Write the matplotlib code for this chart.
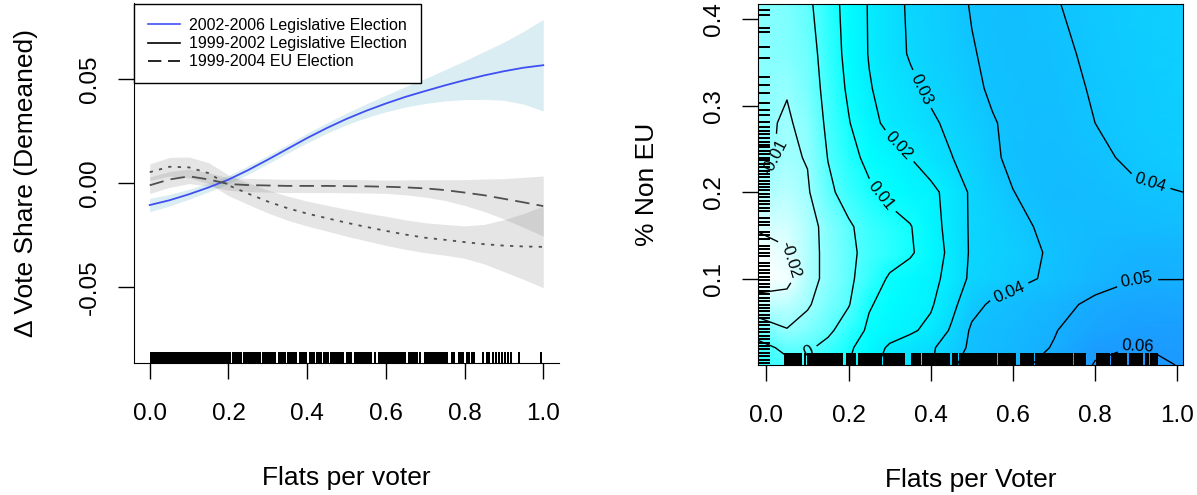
import numpy as np
import matplotlib.pyplot as plt
from matplotlib.colors import LinearSegmentedColormap
from matplotlib.lines import Line2D

plt.rcParams['font.family'] = 'Liberation Sans'
plt.rcParams['axes.unicode_minus'] = False

# ---------------- left panel: smooth effects ----------------
flats = [0.0, 0.05, 0.1, 0.15, 0.2, 0.25, 0.3, 0.35, 0.4, 0.45, 0.5,
         0.55, 0.6, 0.65, 0.7, 0.75, 0.8, 0.85, 0.9, 0.95, 1.0]

# 2002-2006 legislative election (blue)
leg02_fit = [-0.0105, -0.0082, -0.0053, -0.0020, 0.0017, 0.0063, 0.0113, 0.0165, 0.0217, 0.0265, 0.0309,
             0.0348, 0.0383, 0.0415, 0.0443, 0.0470, 0.0495, 0.0518, 0.0538, 0.0555, 0.0567]
leg02_lo = [-0.0137, -0.0110, -0.0077, -0.0041, -0.0003, 0.0043, 0.0093, 0.0144, 0.0194, 0.0240, 0.0281,
            0.0315, 0.0343, 0.0366, 0.0383, 0.0395, 0.0402, 0.0403, 0.0398, 0.0380, 0.0347]
leg02_hi = [-0.0073, -0.0054, -0.0029, 0.0001, 0.0037, 0.0083, 0.0133, 0.0186, 0.0240, 0.0290, 0.0337,
            0.0381, 0.0423, 0.0464, 0.0503, 0.0545, 0.0588, 0.0633, 0.0678, 0.0730, 0.0787]

# 1999-2004 EU election (long dashes)
eu_fit = [-0.0010, 0.0018, 0.0033, 0.0018, -0.0004, -0.0009, -0.0011, -0.0013, -0.0013, -0.0013, -0.0014,
          -0.0015, -0.0017, -0.0020, -0.0025, -0.0033, -0.0045, -0.0058, -0.0075, -0.0092, -0.0110]
eu_lo = [-0.0050, -0.0020, -0.0002, -0.0014, -0.0034, -0.0041, -0.0043, -0.0045, -0.0045, -0.0045, -0.0046,
         -0.0047, -0.0049, -0.0056, -0.0067, -0.0083, -0.0107, -0.0136, -0.0172, -0.0212, -0.0255]
eu_hi = [0.0030, 0.0056, 0.0068, 0.0050, 0.0026, 0.0023, 0.0021, 0.0019, 0.0019, 0.0019, 0.0018,
         0.0017, 0.0015, 0.0016, 0.0017, 0.0017, 0.0017, 0.0020, 0.0022, 0.0028, 0.0035]

# 1999-2002 legislative election (dotted)
leg99_fit = [0.0053, 0.0079, 0.0076, 0.0048, -0.0010, -0.0050, -0.0088, -0.0120, -0.0146, -0.0168, -0.0190,
             -0.0210, -0.0229, -0.0247, -0.0262, -0.0272, -0.0283, -0.0293, -0.0300, -0.0304, -0.0306]
leg99_lo = [0.0013, 0.0034, 0.0026, -0.0002, -0.0060, -0.0102, -0.0143, -0.0178, -0.0206, -0.0230, -0.0255,
            -0.0277, -0.0299, -0.0318, -0.0334, -0.0346, -0.0361, -0.0388, -0.0425, -0.0462, -0.0502]
leg99_hi = [0.0093, 0.0124, 0.0126, 0.0098, 0.0040, 0.0002, -0.0033, -0.0062, -0.0086, -0.0106, -0.0125,
            -0.0143, -0.0159, -0.0176, -0.0190, -0.0198, -0.0205, -0.0198, -0.0175, -0.0146, -0.0110]

# rug of observed flats per voter (in thousandths)
rug_left = [2, 6, 10, 14, 18, 22, 26, 30, 34, 38, 42, 46, 50, 54, 58, 62, 66, 70, 74, 78, 82, 86, 90,
            94, 98, 102, 106, 110, 114, 118, 122, 126, 130, 134, 138, 142, 146, 150, 154, 158, 162,
            166, 170, 174, 178, 182, 186, 190, 194, 198, 202, 205, 212, 216, 221, 226, 231, 239, 244,
            249, 254, 259, 264, 269, 274, 279, 289, 294, 299, 304, 309, 314, 319, 329, 334, 339, 344,
            352, 357, 362, 367, 372, 382, 387, 392, 397, 408, 413, 417, 424, 429, 434, 444, 449, 452,
            461, 466, 471, 476, 481, 486, 491, 501, 506, 511, 522, 527, 532, 537, 542, 547, 552, 557,
            562, 573, 583, 588, 593, 598, 603, 608, 613, 618, 623, 628, 633, 638, 643, 648, 658, 663,
            668, 673, 678, 688, 700, 705, 710, 715, 720, 725, 730, 735, 740, 745, 750, 755, 768, 773,
            785, 790, 795, 806, 812, 818, 825, 848, 856, 862, 872, 880, 888, 895, 902, 910, 918, 939, 995]

x_ticks = [0.0, 0.2, 0.4, 0.6, 0.8, 1.0]
x_labels = ['0.0', '0.2', '0.4', '0.6', '0.8', '1.0']
y_ticks_left = [-0.05, 0.0, 0.05]
y_labels_left = ['-0.05', '0.00', '0.05']

# ---------------- right panel: joint surface ----------------
grid_x = [-0.0205, 0.05, 0.1, 0.15, 0.2, 0.25, 0.3, 0.35, 0.4, 0.45, 0.5, 0.55, 0.6, 0.7, 0.8, 0.9, 1.014]
grid_y = [0.0, 0.02, 0.04, 0.07, 0.10, 0.13, 0.16, 0.20, 0.24, 0.28, 0.32, 0.36, 0.4177]
surface = [
    [0.005, 0.002, 0.004, 0.0065, 0.010, 0.018, 0.0225, 0.026, 0.029, 0.039, 0.0425, 0.045, 0.0475, 0.053, 0.0605, 0.0625, 0.0595],
    [0.003, -0.002, -0.0015, 0.003, 0.0085, 0.0145, 0.0215, 0.025, 0.0285, 0.035, 0.042, 0.0445, 0.046, 0.0505, 0.0585, 0.0603, 0.0588],
    [-0.004, -0.0095, -0.0065, -0.002, 0.005, 0.0115, 0.0155, 0.0185, 0.0225, 0.0312, 0.0415, 0.0438, 0.0455, 0.0495, 0.055, 0.0575, 0.058],
    [-0.016, -0.0155, -0.011, -0.0055, -0.0006, 0.0093, 0.0128, 0.0155, 0.0188, 0.027, 0.037, 0.0415, 0.0435, 0.047, 0.052, 0.0545, 0.055],
    [-0.025, -0.023, -0.0135, -0.0075, -0.0018, 0.0045, 0.0112, 0.0145, 0.0178, 0.0225, 0.0325, 0.0348, 0.037, 0.042, 0.0465, 0.0498, 0.0498],
    [-0.024, -0.0205, -0.0135, -0.0075, -0.0018, 0.0025, 0.0058, 0.0088, 0.0148, 0.0225, 0.0315, 0.034, 0.036, 0.0415, 0.0455, 0.0475, 0.0475],
    [-0.019, -0.0185, -0.0135, -0.007, -0.0012, 0.0035, 0.0067, 0.0095, 0.0158, 0.0235, 0.0315, 0.0345, 0.0375, 0.0425, 0.0445, 0.0445, 0.043],
    [-0.013, -0.0145, -0.011, -0.002, 0.0037, 0.0083, 0.0122, 0.0152, 0.0175, 0.0235, 0.0317, 0.0358, 0.0398, 0.0445, 0.0435, 0.041, 0.040],
    [-0.008, -0.0115, -0.0095, 0.0003, 0.0067, 0.0125, 0.016, 0.020, 0.025, 0.0297, 0.0335, 0.0385, 0.042, 0.0435, 0.0415, 0.0385, 0.0365],
    [-0.008, -0.011, -0.0075, 0.002, 0.0094, 0.017, 0.0225, 0.0255, 0.0285, 0.032, 0.0355, 0.0395, 0.0415, 0.043, 0.040, 0.0375, 0.0355],
    [-0.008, -0.0095, -0.005, 0.003, 0.0115, 0.0193, 0.0238, 0.028, 0.0318, 0.0347, 0.0385, 0.041, 0.042, 0.0425, 0.0393, 0.037, 0.035],
    [-0.008, -0.007, -0.004, 0.0042, 0.0129, 0.0205, 0.0262, 0.0308, 0.0338, 0.0366, 0.0395, 0.0415, 0.0425, 0.0418, 0.0385, 0.0365, 0.035],
    [-0.008, -0.006, -0.002, 0.0058, 0.0133, 0.0207, 0.0266, 0.0313, 0.0344, 0.0375, 0.0405, 0.042, 0.0425, 0.0404, 0.038, 0.036, 0.035],
]
contour_levels = [-0.02, -0.01, 0.0, 0.01, 0.02, 0.03, 0.04, 0.05, 0.06]

# rugs of the right panel (in thousandths)
rug_right_x = [45, 50, 55, 60, 65, 70, 75, 80, 85, 95, 100, 105, 110, 115, 120, 125, 130, 135, 140, 145,
               150, 155, 160, 165, 170, 175, 180, 185, 195, 200, 205, 210, 215, 225, 230, 235, 240, 245,
               250, 255, 260, 265, 270, 275, 280, 285, 290, 295, 300, 305, 310, 315, 320, 325, 330, 335,
               355, 360, 365, 370, 375, 380, 385, 390, 395, 400, 405, 410, 415, 420, 425, 430, 435, 440,
               445, 455, 460, 465, 470, 475, 480, 485, 490, 495, 500, 505, 510, 515, 520, 525, 530, 535,
               540, 545, 550, 555, 560, 565, 570, 575, 580, 585, 590, 595, 600, 605, 620, 625, 630, 635,
               640, 645, 650, 655, 660, 665, 670, 675, 680, 685, 690, 695, 700, 705, 710, 715, 720, 725,
               730, 735, 740, 745, 750, 755, 760, 765, 770, 775, 805, 810, 815, 820, 825, 830, 835, 840,
               845, 850, 855, 860, 865, 870, 875, 885, 890, 895, 900, 905, 910, 915, 925, 930, 935, 940,
               945, 950]
rug_right_y = [411, 405, 390, 385, 368, 355, 333, 324, 315, 303, 295, 289, 281, 275, 271, 267, 263, 258,
               255, 252, 248, 244, 240, 237, 233, 229, 225, 221, 217, 213, 210, 206, 202, 198, 194, 190,
               186, 182, 178, 170, 166, 162, 154, 150, 146, 138, 134, 130, 126, 118, 114, 110, 106, 102,
               98, 94, 90, 86, 82, 78, 74, 70, 66, 62, 58, 54, 50, 46, 42, 38, 34, 30, 26, 22, 18, 14,
               10, 6, 2]

y_ticks_right = [0.1, 0.2, 0.3, 0.4]
y_labels_right = ['0.1', '0.2', '0.3', '0.4']

# ---------------- drawing ----------------
fig = plt.figure(figsize=(11.97, 4.95), dpi=100)
tick_fs = 17.5
lab_fs = 19

ax = fig.add_axes([134 / 1197, 1 - 363 / 495, 425 / 1197, 359.6 / 495])
ax.fill_between(flats, leg02_lo, leg02_hi, color='#add8e6', alpha=0.45, lw=0)
ax.fill_between(flats, eu_lo, eu_hi, color='gray', alpha=0.2, lw=0)
ax.fill_between(flats, leg99_lo, leg99_hi, color='gray', alpha=0.2, lw=0)
ax.plot(flats, leg02_fit, color='#3f4ff2', lw=1.3)
ax.plot(flats, eu_fit, color='#505050', lw=1.3, dashes=(8, 4))
ax.plot(flats, leg99_fit, color='#505050', lw=1.3, dashes=(1.8, 3.5))
ax.vlines(np.array(rug_left) / 1000, 0, 0.03, transform=ax.get_xaxis_transform(),
          color='black', lw=1.1, antialiased=False)
ax.set_xlim(-0.04, 1.04)
ax.set_ylim(-0.0864, 0.0864)
for s in ['top', 'right']:
    ax.spines[s].set_visible(False)
ax.set_xticks(x_ticks)
ax.set_xticklabels(x_labels)
ax.set_yticks(y_ticks_left)
ax.set_yticklabels(y_labels_left, rotation=90, va='center')
ax.tick_params(axis='x', length=11.5, width=1, labelsize=tick_fs, pad=17)
ax.tick_params(axis='y', length=11.5, width=1, labelsize=tick_fs, pad=12)
ax.set_xlabel('Flats per voter', fontsize=lab_fs, labelpad=30)
ax.set_ylabel('\u0394 Vote Share (Demeaned)', fontsize=lab_fs, labelpad=30)

handles = [Line2D([], [], color='#3f4ff2', lw=1.2),
           Line2D([], [], color='black', lw=1.2),
           Line2D([], [], color='black', lw=1.2, dashes=(8, 4))]
leg = ax.legend(handles, ['2002-2006 Legislative Election', '1999-2002 Legislative Election',
                          '1999-2004 EU Election'],
                loc='upper left', bbox_to_anchor=(0.0, 0.997), borderaxespad=0,
                fontsize=11.5, handlelength=2.0, handletextpad=0.6, labelspacing=0.2,
                borderpad=0.85, fancybox=False, framealpha=1, edgecolor='black')
leg.get_frame().set_linewidth(1.0)

# right panel
ax2 = fig.add_axes([758 / 1197, 1 - 365 / 495, 425 / 1197, 361 / 495])
cmap = LinearSegmentedColormap.from_list('wcb', [(0, 'white'), (0.411, 'cyan'), (1, 'dodgerblue')])
gx, gy = np.meshgrid(grid_x, grid_y)
ax2.pcolormesh(gx, gy, np.array(surface), shading='gouraud', cmap=cmap, vmin=-0.025, vmax=0.065)
cs = ax2.contour(grid_x, grid_y, np.array(surface), levels=contour_levels, colors='black',
                 linewidths=1.0, negative_linestyles='solid')
label_spots = [(0.051, 0.121), (0.02, 0.24), (0.098, 0.019), (0.276, 0.194), (0.32, 0.252),
               (0.373, 0.318), (0.588, 0.088), (0.934, 0.211), (0.902, 0.099), (0.902, 0.017)]
ax2.clabel(cs, contour_levels, inline=True, fontsize=12, manual=label_spots,
           fmt=lambda v: '%g' % round(v, 3))
ax2.vlines(np.array(rug_right_x) / 1000, 0, 0.033, transform=ax2.get_xaxis_transform(),
           color='black', lw=1.1, antialiased=False)
ax2.hlines(np.array(rug_right_y) / 1000, 0, 0.028, transform=ax2.get_yaxis_transform(),
           color='black', lw=1.1, antialiased=False)
ax2.set_xlim(-0.0205, 1.014)
ax2.set_ylim(0, 0.4177)
ax2.set_xticks(x_ticks)
ax2.set_xticklabels(x_labels)
ax2.set_yticks(y_ticks_right)
ax2.set_yticklabels(y_labels_right, rotation=90, va='center')
ax2.tick_params(axis='x', length=11.5, width=1, labelsize=tick_fs, pad=17)
ax2.tick_params(axis='y', length=11.5, width=1, labelsize=tick_fs, pad=12)
ax2.set_xlabel('Flats per Voter', fontsize=lab_fs, labelpad=30)
ax2.set_ylabel('% Non EU', fontsize=lab_fs, labelpad=32)

fig.savefig('out.png', dpi=100)
